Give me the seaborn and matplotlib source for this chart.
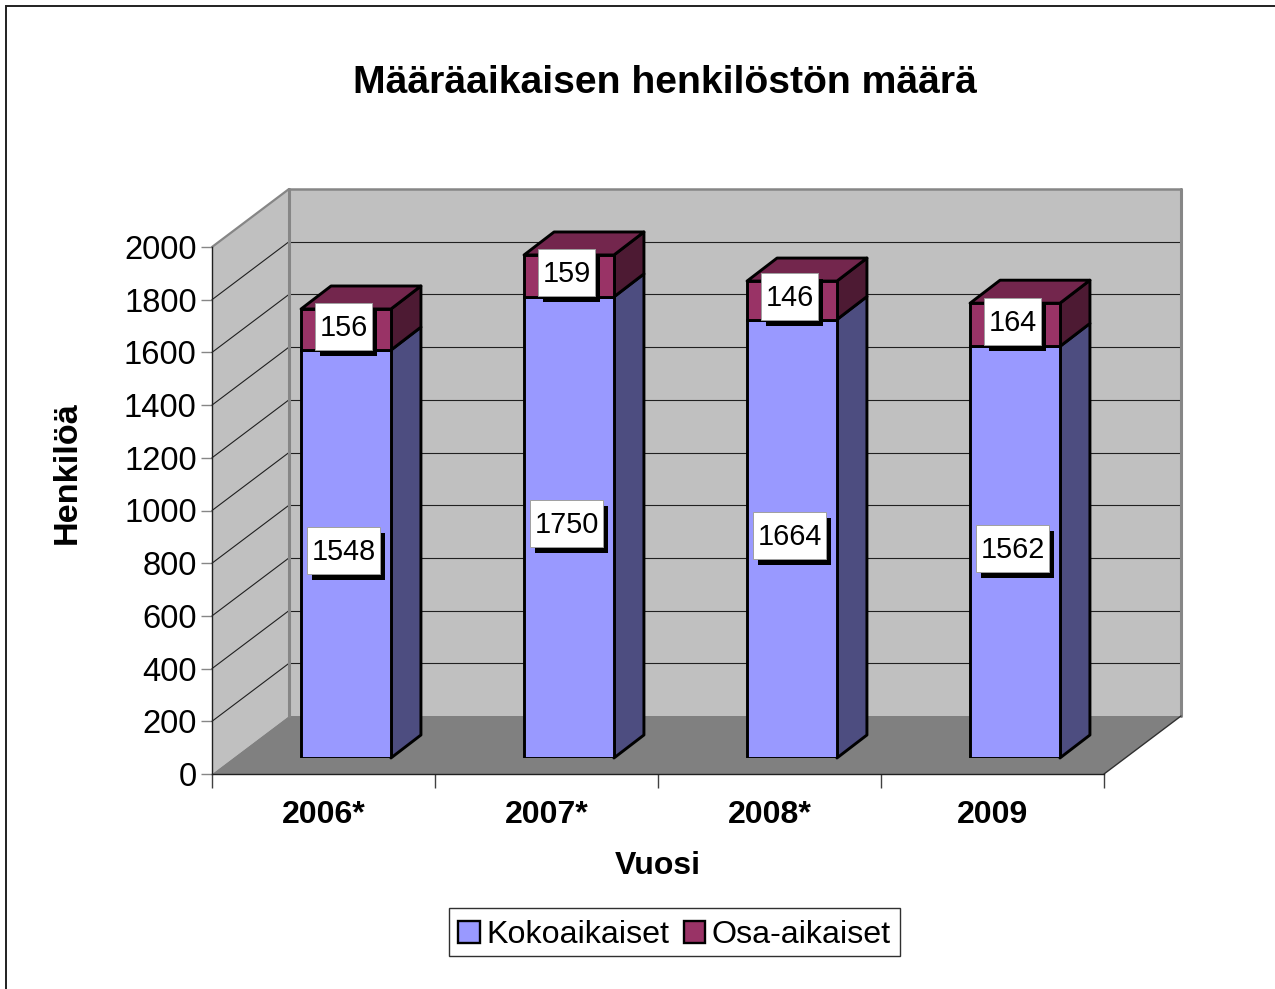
import numpy as np
import pandas as pd
import matplotlib
matplotlib.use("Agg")
import matplotlib.pyplot as plt
from matplotlib.patches import Polygon, Rectangle, Patch
from matplotlib.transforms import IdentityTransform
import seaborn as sns

# Data
years = ["2006*", "2007*", "2008*", "2009"]
kokoaikaiset = [1548, 1750, 1664, 1562]
osa_aikaiset = [156, 159, 146, 164]
y_ticks = list(range(0, 2001, 200))

# Colours
wall_col = "#C0C0C0"
floor_col = "#808080"
edge_gray = "#868686"
koko_col = "#9999FF"
koko_side = "#4D4D80"
osa_col = "#993366"
osa_side = "#4D1A33"
osa_top = "#73264D"

W, H = 1275, 989
sns.set_style("white")
plt.rcParams["font.family"] = ["Liberation Sans", "DejaVu Sans"]
plt.rcParams["text.color"] = "black"
plt.rcParams["axes.labelcolor"] = "black"
plt.rcParams["xtick.labelcolor"] = "black"
plt.rcParams["ytick.labelcolor"] = "black"

fig = plt.figure(figsize=(W / 100, H / 100), dpi=100, facecolor="white")


def box(x0, y_top, x1, y_bottom):
    # pixel box of the picture -> figure fractions
    return [x0 / W, 1 - y_bottom / H, (x1 - x0) / W, (y_bottom - y_top) / H]


# Front plane of the chart
ax = fig.add_axes(box(212, 247, 1104, 774), facecolor="none")
ax.set_xlim(-0.5, 3.5)
ax.set_ylim(0, 2000)
ax.set_xticks(range(4), years, fontsize=23, fontweight="bold")
ax.set_xticks(np.arange(-0.5, 4), minor=True)
ax.set_yticks(y_ticks, y_ticks, fontsize=23.6)
ax.tick_params(axis="x", which="major", length=0, pad=18.5)
ax.tick_params(axis="x", which="minor", length=10, width=1, color="#404040", bottom=True)
ax.tick_params(axis="y", length=8, width=1, color=edge_gray, left=True, pad=3)
sns.despine(ax=ax)
for s in ["left", "bottom"]:
    ax.spines[s].set_color("#202020")
    ax.spines[s].set_linewidth(1)
ax.set_xlabel("Vuosi", fontsize=23, fontweight="bold", labelpad=15.5)
ax.set_ylabel("Henkilöä", fontsize=24.7, fontweight="bold")
ax.yaxis.set_label_coords(-0.145, 0.572)

# Depth of the box in pixels
depth = np.array([77, 58])


def front(x, y, d=0.0):
    return ax.transData.transform((x, y)) + d * depth


def face(points, **kw):
    kw.setdefault("linewidth", 0)
    ax.add_patch(Polygon(points, closed=True, transform=IdentityTransform(), clip_on=False, zorder=0, **kw))


def line(a, b, **kw):
    ax.add_line(plt.Line2D([a[0], b[0]], [a[1], b[1]], transform=IdentityTransform(), clip_on=False, zorder=1, **kw))


# Walls and floor
face([front(-0.5, 0, 1), front(3.5, 0, 1), front(3.5, 2000, 1), front(-0.5, 2000, 1)], facecolor=wall_col)
face([front(-0.5, 0), front(-0.5, 0, 1), front(-0.5, 2000, 1), front(-0.5, 2000)], facecolor=wall_col)
face([front(-0.5, 0), front(3.5, 0), front(3.5, 0, 1), front(-0.5, 0, 1)], facecolor=floor_col)

for v in y_ticks[1:-1]:
    line(front(-0.5, v), front(-0.5, v, 1), color="#202020", linewidth=0.8)
    line(front(-0.5, v, 1), front(3.5, v, 1), color="#202020", linewidth=0.8)

line(front(-0.5, 2000), front(-0.5, 2000, 1), color=edge_gray, linewidth=1.6)
line(front(-0.5, 2000, 1), front(3.5, 2000, 1), color=edge_gray, linewidth=1.8)
line(front(-0.5, 0, 1), front(-0.5, 2000, 1), color=edge_gray, linewidth=2.2)
line(front(3.5, 0, 1), front(3.5, 2000, 1), color=edge_gray, linewidth=2.2)
line(front(3.5, 0), front(3.5, 0, 1), color="#303030", linewidth=1)

# Bars sit part way into the box
ax_bar = fig.add_axes(box(234.5, 231, 1126.5, 758), facecolor="none")
df = pd.DataFrame({"year": years, "koko": kokoaikaiset, "osa": osa_aikaiset})
sns.barplot(data=df, x="year", y="koko", color=koko_col, saturation=1, width=0.403,
            edgecolor="black", linewidth=2.1, ax=ax_bar, zorder=3)
sns.barplot(data=df, x="year", y="osa", bottom=df["koko"], color=osa_col, saturation=1, width=0.403,
            edgecolor="black", linewidth=2.1, ax=ax_bar, zorder=3)
ax_bar.set_xlim(-0.5, 3.5)
ax_bar.set_ylim(0, 2000)
ax_bar.set_axis_off()

bar_depth = np.array([30, 23])
patches = list(ax_bar.patches)
bars_koko, bars_osa = patches[:4], patches[4:8]


def bar_face(points, col):
    ax_bar.add_patch(Polygon(points, closed=True, facecolor=col, edgecolor="black", linewidth=2.1,
                             joinstyle="round", transform=IdentityTransform(), clip_on=False, zorder=2.5))


renderer = fig.canvas.get_renderer()


def data_label(bar, value):
    cx = bar.get_x() + bar.get_width() / 2
    cy = bar.get_y() + bar.get_height() / 2
    px = ax_bar.transData.transform((cx, cy)) + np.array([-2.5, 3.5])
    t = ax_bar.text(px[0], px[1] - 1.5, str(value), transform=IdentityTransform(), fontsize=20.8,
                    ha="center", va="center", color="black", zorder=7, clip_on=False)
    ext = t.get_window_extent(renderer)
    w, h = ext.width + 9.5, 47
    ax_bar.add_patch(Rectangle((px[0] - w / 2 + 5, px[1] - h / 2 - 6), w, h, facecolor="black", linewidth=0,
                               transform=IdentityTransform(), clip_on=False, zorder=5))
    ax_bar.add_patch(Rectangle((px[0] - w / 2, px[1] - h / 2), w, h, facecolor="white", edgecolor="#A0A0A0",
                               linewidth=0.7, transform=IdentityTransform(), clip_on=False, zorder=6))


for b1, b2, k, o in zip(bars_koko, bars_osa, kokoaikaiset, osa_aikaiset):
    x0, x1 = b1.get_x(), b1.get_x() + b1.get_width()
    r0 = ax_bar.transData.transform((x1, 0))
    r1 = ax_bar.transData.transform((x1, k))
    r2 = ax_bar.transData.transform((x1, k + o))
    l2 = ax_bar.transData.transform((x0, k + o))
    bar_face([r0, r0 + bar_depth, r1 + bar_depth, r1], koko_side)
    bar_face([r1, r1 + bar_depth, r2 + bar_depth, r2], osa_side)
    bar_face([l2, r2, r2 + bar_depth, l2 + bar_depth], osa_top)
    data_label(b1, k)
    data_label(b2, o)

# Title, legend, chart frame
fig.text(665 / W, 1 - 83 / H, "Määräaikaisen henkilöstön määrä", fontsize=28.2, fontweight="bold",
         ha="center", va="center")

handles = [Patch(facecolor=koko_col, edgecolor="black", linewidth=1.7, label="Kokoaikaiset"),
           Patch(facecolor=osa_col, edgecolor="black", linewidth=1.7, label="Osa-aikaiset")]
leg = fig.legend(handles=handles, ncol=2, loc="center", bbox_to_anchor=(674.5 / W, 1 - 932 / H), fontsize=23.2,
                 frameon=True, fancybox=False, framealpha=1, edgecolor="#303030",
                 handlelength=0.66, handleheight=0.66, handletextpad=0.2, columnspacing=0.45,
                 borderpad=0.29, borderaxespad=0)
leg.get_frame().set_linewidth(1)
for t in leg.get_texts():
    t.set_y(-3)
for h in leg.legend_handles:
    h.set_y(h.get_y() - 2.5)

fig.add_artist(Rectangle((6 / W, -0.05), 1.1, 1 - 6 / H + 0.05, transform=fig.transFigure, facecolor="none",
                         edgecolor="#202020", linewidth=1.4))

fig.savefig("out.png", dpi=100, facecolor="white")
